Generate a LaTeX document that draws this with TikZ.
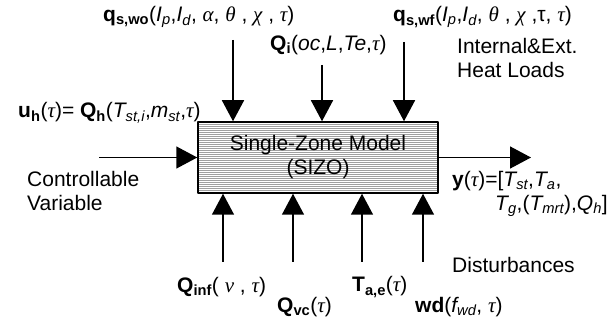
\documentclass[tikz,border=0pt]{standalone}
\usepackage{fontspec}
\setmainfont{Liberation Sans}
\newfontfamily\grk{Liberation Serif}
\newcommand{\gk}[1]{{\grk\itshape #1}}
\newcommand{\lsub}[1]{\textsubscript{#1}}
\usetikzlibrary{arrows.meta}

\begin{document}
\begin{tikzpicture}[x=1pt, y=-1pt, line join=round,
  flow/.style={-{Triangle[length=21pt, width=22pt]}, line width=1.5pt},
  lbl/.style={anchor=west, inner sep=0pt, font=\fontsize{21}{24}\selectfont, align=left},
  hatchline/.style={gray!75, line width=0.5pt}]
\useasboundingbox (0,0) rectangle (610,320);
% hatched model box
\foreach \yy in {124,126,...,192}
  \draw[hatchline] (199,\yy) -- (437,\yy);
\node[draw, line width=1.5pt, minimum width=240pt, minimum height=71pt, inner sep=0pt,
  font=\fontsize{21}{24}\selectfont, align=center] (sizo) at (318,157.5)
  {Single-Zone Model\\(SIZO)};
% arrow ends
\coordinate (qwo) at (233,40);
\coordinate (qi) at (322,65);
\coordinate (qwf) at (404,42);
\coordinate (uin) at (99,157.5);
\coordinate (yout) at (531,157.5);
\coordinate (inf) at (223,262);
\coordinate (vc) at (293,262);
\coordinate (tae) at (362,262);
\coordinate (wd) at (423,262);
\draw[flow] (qwo) -- (sizo.north -| qwo);
\draw[flow] (qi) -- (sizo.north -| qi);
\draw[flow] (qwf) -- (sizo.north -| qwf);
\draw[flow] (uin) -- (sizo.west);
\draw[flow] (sizo.east) -- (yout);
\draw[flow] (inf) -- (sizo.south -| inf);
\draw[flow] (vc) -- (sizo.south -| vc);
\draw[flow] (tae) -- (sizo.south -| tae);
\draw[flow] (wd) -- (sizo.south -| wd);
% labels
\node[lbl] (lqwo) at (103,17) {\textbf{q\lsub{s,wo}}(\textit{I\lsub{p}},\textit{I\lsub{d}}, \gk{α}, \gk{θ} , \gk{χ} , \gk{τ})};
\node[lbl] (lqi) at (270,45) {\textbf{Q\lsub{i}}(\textit{oc},\textit{L},\textit{Te},\gk{τ})};
\node[lbl] (lqwf) at (393,17) {\textbf{q\lsub{s,wf}}(\textit{I\lsub{p}},\textit{I\lsub{d}}, \gk{θ} , \gk{χ} ,τ, \gk{τ})};
\node[lbl] (lheat) at (457,57.5) {Internal\&Ext.\\Heat Loads};
\node[lbl] (luh) at (18,113) {\textbf{u\lsub{h}}(\gk{τ})= \textbf{Q\lsub{h}}(\textit{T\lsub{st,i}},\textit{m\lsub{st}},\gk{τ})};
\node[lbl] (lctrl) at (27,191) {Controllable\\Variable};
\node[lbl] (ly) at (452,193.5) {\textbf{y}(\gk{τ})=[\textit{T\lsub{st}},\textit{T\lsub{a}},\\\hspace{43pt}\textit{T\lsub{g}},(\textit{T\lsub{mrt}}),\textit{Q\lsub{h}}]};
\node[lbl] (linf) at (177,287) {\textbf{Q\lsub{inf}}( \gk{ν} , \gk{τ})};
\node[lbl] (lvc) at (277,307) {\textbf{Q\lsub{vc}}(\gk{τ})};
\node[lbl] (ltae) at (352,287) {\textbf{T\lsub{a,e}}(\gk{τ})};
\node[lbl] (lwd) at (415,307) {\textbf{wd}(\textit{f\lsub{wd}}, \gk{τ})};
\node[lbl] (ldist) at (452,265) {Disturbances};
\end{tikzpicture}
\end{document}
